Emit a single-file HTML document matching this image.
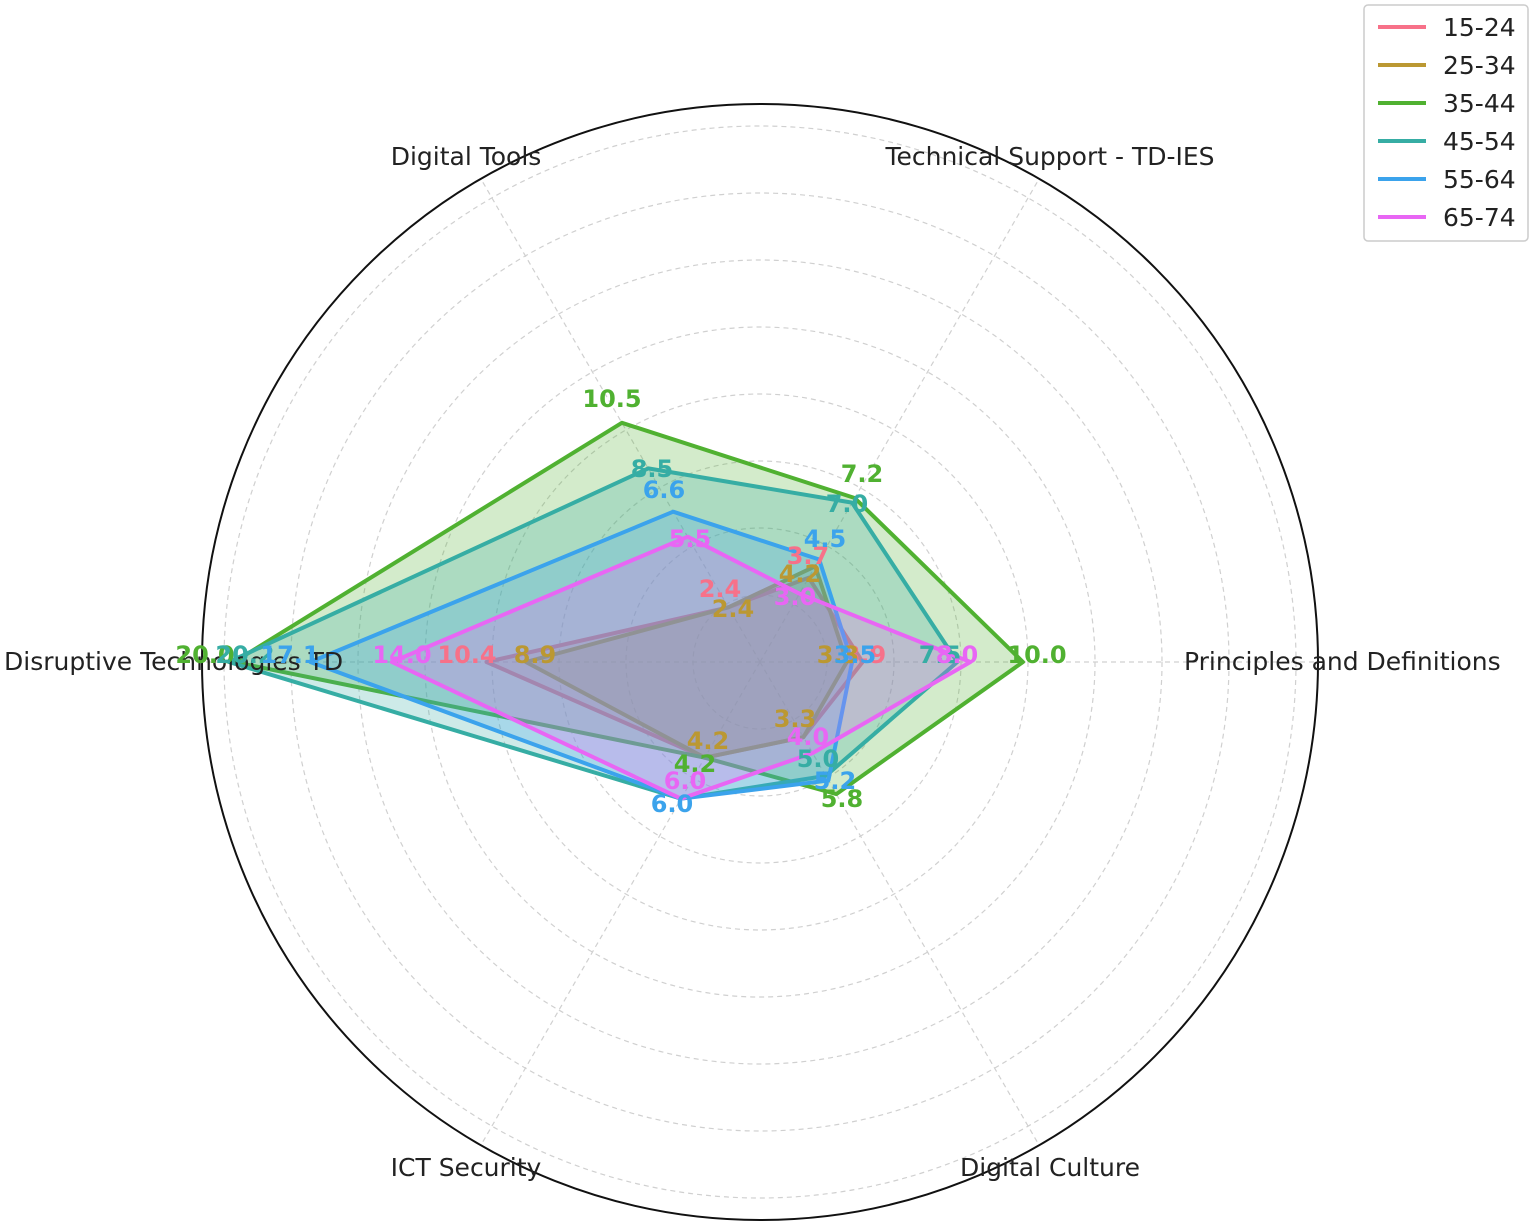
<!DOCTYPE html>
<html><head><meta charset="utf-8"><style>
html,body{margin:0;padding:0;background:#fff;}
svg{display:block;font-family:"DejaVu Sans","Liberation Sans",sans-serif;}
.ax{font-size:25px;fill:#222;}
.lg{font-size:25px;fill:#222;}
.v{font-size:24px;font-weight:bold;text-anchor:middle;dominant-baseline:middle;}
</style></head><body>
<svg width="1535" height="1229" viewBox="0 0 1535 1229" xmlns="http://www.w3.org/2000/svg">
<g fill="none" stroke="#d0d0d0" stroke-width="1.2" stroke-dasharray="5,4">
<circle cx="760" cy="662" r="67"/><circle cx="760" cy="662" r="134"/><circle cx="760" cy="662" r="201"/>
<circle cx="760" cy="662" r="268"/><circle cx="760" cy="662" r="335"/><circle cx="760" cy="662" r="402"/>
<circle cx="760" cy="662" r="469"/><circle cx="760" cy="662" r="536"/>
<line x1="760" y1="662" x2="1318" y2="662"/><line x1="760" y1="662" x2="202" y2="662"/>
<line x1="760" y1="662" x2="1039" y2="179"/><line x1="760" y1="662" x2="481" y2="179"/>
<line x1="760" y1="662" x2="481" y2="1145"/><line x1="760" y1="662" x2="1039" y2="1145"/>
</g>
<circle cx="760" cy="662" r="558" fill="none" stroke="#111" stroke-width="2"/>
<g stroke-width="4" stroke-linejoin="round">
<polygon points="862.6,662 808.7,577.7 728.4,607.3 486.5,662 704.8,757.7 803.4,737.2" fill="rgba(247,113,137,0.25)" stroke="#f77189"/>
<polygon points="846.8,662 815.2,566.3 728.4,607.3 525.9,662 704.8,757.7 803.4,737.2" fill="rgba(187,152,50,0.25)" stroke="#bb9832"/>
<polygon points="1023,662 854.7,498 621.9,422.8 234,662 704.8,757.7 836.3,794.1" fill="rgba(80,177,49,0.25)" stroke="#50b131"/>
<polygon points="957.3,662 852,502.6 648.2,468.4 228.7,662 681.1,798.7 825.8,775.9" fill="rgba(54,173,164,0.25)" stroke="#36ada4"/>
<polygon points="852.1,662 819.2,559.5 673.2,511.7 310.3,662 681.1,798.7 828.4,780.5" fill="rgba(59,163,236,0.25)" stroke="#3ba3ec"/>
<polygon points="970.4,662 799.5,593.7 687.7,536.7 391.8,662 681.1,798.7 812.6,753.1" fill="rgba(232,102,244,0.25)" stroke="#e866f4"/>
</g>
<text class="ax" x="1184" y="670">Principles and Definitions</text>
<text class="ax" x="1050" y="165" text-anchor="middle">Technical Support - TD-IES</text>
<text class="ax" x="466" y="165" text-anchor="middle">Digital Tools</text>
<text class="ax" x="4" y="670">Disruptive Technologies TD</text>
<text class="ax" x="466" y="1176" text-anchor="middle">ICT Security</text>
<text class="ax" x="1050" y="1176" text-anchor="middle">Digital Culture</text>
<g class="v">
<text x="865" y="656" fill="#f77189">3.9</text>
<text x="808" y="557" fill="#f77189">3.7</text>
<text x="720" y="590" fill="#f77189">2.4</text>
<text x="467" y="656" fill="#f77189">10.4</text>
<text x="838" y="656" fill="#bb9832">3.3</text>
<text x="800" y="575" fill="#bb9832">4.2</text>
<text x="733" y="610" fill="#bb9832">2.4</text>
<text x="535" y="656" fill="#bb9832">8.9</text>
<text x="708" y="742" fill="#bb9832">4.2</text>
<text x="795" y="720" fill="#bb9832">3.3</text>
<text x="1037" y="656" fill="#50b131">10.0</text>
<text x="862" y="475" fill="#50b131">7.2</text>
<text x="612" y="400" fill="#50b131">10.5</text>
<text x="205" y="656" fill="#50b131">20.0</text>
<text x="695" y="765" fill="#50b131">4.2</text>
<text x="842" y="800" fill="#50b131">5.8</text>
<text x="940" y="656" fill="#36ada4">7.5</text>
<text x="847" y="505" fill="#36ada4">7.0</text>
<text x="652" y="470" fill="#36ada4">8.5</text>
<text x="245" y="656" fill="#36ada4">20.2</text>
<text x="818" y="760" fill="#36ada4">5.0</text>
<text x="855" y="656" fill="#3ba3ec">3.5</text>
<text x="825" y="540" fill="#3ba3ec">4.5</text>
<text x="664" y="491" fill="#3ba3ec">6.6</text>
<text x="290" y="656" fill="#3ba3ec">17.1</text>
<text x="672" y="805" fill="#3ba3ec">6.0</text>
<text x="835" y="782" fill="#3ba3ec">5.2</text>
<text x="957" y="656" fill="#e866f4">8.0</text>
<text x="795" y="598" fill="#e866f4">3.0</text>
<text x="690" y="540" fill="#e866f4">5.5</text>
<text x="402" y="656" fill="#e866f4">14.0</text>
<text x="685" y="782" fill="#e866f4">6.0</text>
<text x="808" y="738" fill="#e866f4">4.0</text>
</g>
<rect x="1364" y="5" width="164" height="236" rx="4" fill="#fff" fill-opacity="0.85" stroke="#ccc" stroke-width="1.5"/>
<g stroke-width="4">
<line x1="1378" y1="27" x2="1426" y2="27" stroke="#f77189"/>
<line x1="1378" y1="65" x2="1426" y2="65" stroke="#bb9832"/>
<line x1="1378" y1="103" x2="1426" y2="103" stroke="#50b131"/>
<line x1="1378" y1="141" x2="1426" y2="141" stroke="#36ada4"/>
<line x1="1378" y1="179" x2="1426" y2="179" stroke="#3ba3ec"/>
<line x1="1378" y1="217" x2="1426" y2="217" stroke="#e866f4"/>
</g>
<g class="lg">
<text x="1443" y="36">15-24</text>
<text x="1443" y="74">25-34</text>
<text x="1443" y="112">35-44</text>
<text x="1443" y="150">45-54</text>
<text x="1443" y="188">55-64</text>
<text x="1443" y="226">65-74</text>
</g>
</svg>
</body></html>
